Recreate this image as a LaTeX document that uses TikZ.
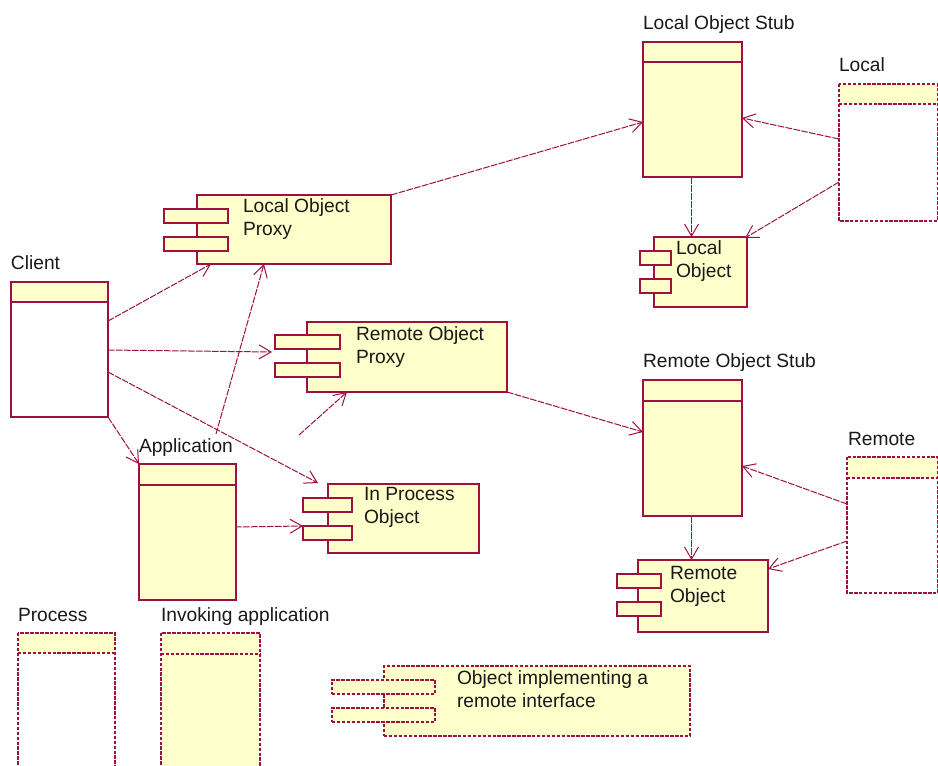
\documentclass[tikz,border=0pt]{standalone}
\usepackage{fontspec}
\setmainfont{Liberation Sans}
\usetikzlibrary{arrows.meta,calc}

\definecolor{umlline}{RGB}{158,16,64}
\definecolor{umlfill}{RGB}{255,255,204}

\tikzset{
  boxline/.style={draw=umlline, line width=1pt},
  legendline/.style={draw=umlline, line width=1pt, dash pattern=on 2.6pt off 1.1pt},
  umlrect/.style={rectangle, inner sep=0pt, outer sep=0pt, anchor=north west},
  txt/.style={inner sep=0pt, outer sep=0pt, align=left, font=\fontsize{14.4}{17.25}\selectfont, text=black!90},
  dep/.style={draw=umlline, line width=0.75pt, dash pattern=on 5pt off 1pt,
              -{Straight Barb[length=9pt,width=10.5pt,line width=0.75pt]}},
}

% class box: name, x, y, width, height, header height, body colour, line style
\newcommand\umlclass[8]{%
  \node[umlrect, fill=#7, minimum width=#4*0.75pt, minimum height=#5*0.75pt] (#1) at (#2,#3) {};
  \fill[umlfill] (#1.north west) rectangle ($(#1.north east)+(0,#6)$);
  \draw[#8] ($(#1.north west)+(0,#6)$) -- ($(#1.north east)+(0,#6)$);
  \draw[#8] (#1.north west) rectangle (#1.south east);
}
% component: name, x, y, w, h, port w, first port position, line style
\newcommand\umlcomp[8]{%
  \node[umlrect, fill=umlfill, #8, minimum width=#4*0.75pt, minimum height=#5*0.75pt] (#1) at (#2,#3) {};
  \node[umlrect, fill=umlfill, #8, minimum width=#6*0.75pt, minimum height=14*0.75pt] (#1A) at #7 {};
  \node[umlrect, fill=umlfill, #8, minimum width=#6*0.75pt, minimum height=14*0.75pt] (#1B) at ($#7+(0,28)$) {};
}

\begin{document}
\begin{tikzpicture}[x=0.75pt, y=-0.75pt]
\clip (0,0) rectangle (938,765);
\fill[white] (0,0) rectangle (938,765);

% ---- class boxes ----
\umlclass{client}{11}{282}{97}{135}{20}{white}{boxline}
\umlclass{app}{139}{464}{97}{136}{21}{umlfill}{boxline}
\umlclass{lstub}{643}{42}{99}{135}{20}{umlfill}{boxline}
\umlclass{local}{839}{84}{98.5}{137}{20}{white}{legendline}
\umlclass{rstub}{643}{380}{99}{136}{21}{umlfill}{boxline}
\umlclass{remote}{847}{457}{90.5}{136}{21}{white}{legendline}
\umlclass{process}{18}{633}{97}{160}{20}{white}{legendline}
\umlclass{invoking}{161}{633}{99}{160}{21}{umlfill}{legendline}

% ---- class labels ----
\node[txt, anchor=base west] (clientL) at (11,269) {Client};
\node[txt, anchor=base west] (appL) at (139,452) {Application};
\node[txt, anchor=base west] (lstubL) at (643,29) {Local Object Stub};
\node[txt, anchor=base west] (localL) at (839,71) {Local};
\node[txt, anchor=base west] (rstubL) at (643,367) {Remote Object Stub};
\node[txt, anchor=base west] (remoteL) at (848,445) {Remote};
\node[txt, anchor=base west] (processL) at (18,621) {Process};
\node[txt, anchor=base west] (invokingL) at (161,621) {Invoking application};

% ---- components ----
\umlcomp{lop}{197}{195}{194}{69}{64}{(164,209)}{draw=umlline, line width=1pt}
\umlcomp{rop}{307}{322}{200}{70}{65}{(275,335)}{draw=umlline, line width=1pt}
\umlcomp{ipo}{328}{484}{151}{69}{49}{(303,498)}{draw=umlline, line width=1pt}
\umlcomp{lobj}{654}{237}{93}{70}{31}{(640,251)}{draw=umlline, line width=1pt}
\umlcomp{robj}{638}{560}{130}{72}{44}{(617,574)}{draw=umlline, line width=1pt}
\umlcomp{impl}{384}{666}{306}{70}{103}{(332,680)}{legendline}

% component names (anchored at the baseline of their last line)
\node[txt, anchor=base west] (lopT) at (243,235) {Local Object\\Proxy};
\node[txt, anchor=base west] (ropT) at (356,363) {Remote Object\\Proxy};
\node[txt, anchor=base west] (ipoT) at (364,523) {In Process\\Object};
\node[txt, anchor=base west] (lobjT) at (676,277) {Local\\Object};
\node[txt, anchor=base west] (robjT) at (670,602) {Remote\\Object};
\node[txt, anchor=base west] (implT) at (457,707) {Object implementing a\\remote interface};

% ---- dependencies ----
\coordinate (appTop) at (216,434);
\coordinate (ropIn) at (299,435);

\draw[dep] ($(client.north east)+(0,39)$) -- ($(lop.south west)+(14,0)$);
\draw[dep] ($(client.north east)+(0,68)$) -- ($(ropA.south west)+(-3,3)$);
\draw[dep] ($(client.north east)+(0,90)$) -- ($(ipo.north west)+(-10,-1)$);
\draw[dep] (client.south east) -- (app.north west);
\draw[dep] (appTop) -- ($(lop.south west)+(67,0)$);
\draw[dep] (ropIn) -- ($(rop.south west)+(40,0)$);
\draw[dep] ($(app.north west)+(96,63)$) -- (ipoB.north west);
\draw[dep] (lop.north east) -- ($(lstub.north west)+(0,80)$);
\draw[dep] (rop.south east) -- ($(rstub.north west)+(0,52)$);
\draw[dep] ($(local.north west)+(0,55)$) -- ($(lstub.north east)+(0,76)$);
\draw[dep] ($(local.north west)+(0,98)$) -- ($(lobj.north east)+(-2,1)$);
\draw[dep] ($(lstub.south)+(-1,0)$) -- ($(lstub.south |- lobj.north)+(-1,0)$);
\draw[dep] ($(remote.north west)+(0,47)$) -- ($(rstub.north east)+(0,86)$);
\draw[dep] ($(remote.north west)+(0,84)$) -- ($(robj.north east)+(0,9)$);
\draw[dep] ($(rstub.south)+(-1,0)$) -- ($(rstub.south |- robj.north)+(-1,0)$);
\end{tikzpicture}
\end{document}
